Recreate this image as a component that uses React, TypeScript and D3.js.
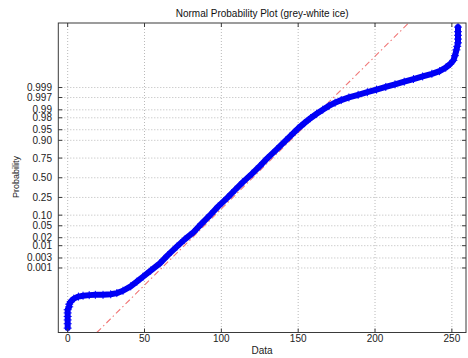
import React from "react";
import * as d3 from "d3";

// Sorted data values (grey level) and their normal quantiles
const dataValues = [
  0, 0, 0, 0, 0, 0, 1, 1, 2, 4, 7, 10, 14, 18, 23, 28, 32, 36, 41, 45, 49, 54,
  60, 65, 71, 76, 82, 87, 93, 98, 104, 109, 114, 120, 125, 130, 136, 142, 147,
  150, 154, 158, 162, 166, 170, 174, 178, 183, 189, 195, 201, 207, 213, 219,
  225, 231, 237, 242, 246, 249, 251, 252, 253, 253.5, 254, 254, 254, 254, 254,
];
const normalQuantiles = [
  -5.15, -5.0, -4.87, -4.75, -4.63, -4.52, -4.42, -4.33, -4.24, -4.14, -4.07,
  -4.04, -4.02, -4.01, -4.01, -3.99, -3.95, -3.87, -3.72, -3.56, -3.39, -3.18,
  -2.93, -2.66, -2.36, -2.12, -1.86, -1.58, -1.26, -0.98, -0.68, -0.41, -0.15,
  0.14, 0.4, 0.67, 0.97, 1.28, 1.54, 1.69, 1.87, 2.04, 2.19, 2.33, 2.46, 2.57,
  2.66, 2.75, 2.84, 2.93, 3.02, 3.11, 3.2, 3.29, 3.38, 3.47, 3.56, 3.65,
  3.77, 3.9, 4.02, 4.18, 4.38, 4.5, 4.62, 4.75, 4.88, 5.0, 5.16,
];

const xTicks = [0, 50, 100, 150, 200, 250];
const yTickProbs = [
  0.001, 0.003, 0.01, 0.02, 0.05, 0.1, 0.25, 0.5, 0.75, 0.9, 0.95, 0.98, 0.99,
  0.997, 0.999,
];
const yTickLabels = [
  "0.001", "0.003", "0.01", "0.02", "0.05", "0.10", "0.25", "0.50", "0.75",
  "0.90", "0.95", "0.98", "0.99", "0.997", "0.999",
];
const fitMean = 120.4;
const fitStd = 19.14;
const xDomain = [-6.1, 259.2];
const zDomain = [-5.3, 5.3];

const titleText = "Normal Probability Plot (grey-white ice)";
const xLabelText = "Data";
const yLabelText = "Probability";

// Inverse normal CDF (Acklam)
function probit(p: number): number {
  const a = [-3.969683028665376e1, 2.209460984245205e2, -2.759285104469687e2, 1.38357751867269e2, -3.066479806614716e1, 2.506628277459239];
  const b = [-5.447609879822406e1, 1.615858368580409e2, -1.556989798598866e2, 6.680131188771972e1, -1.328068155288572e1];
  const c = [-7.784894002430293e-3, -3.223964580411365e-1, -2.400758277161838, -2.549732539343734, 4.374664141464968, 2.938163982698783];
  const d = [7.784695709041462e-3, 3.224671290700398e-1, 2.445134137142996, 3.754408661907416];
  const pl = 0.02425;
  if (p < pl) {
    const q = Math.sqrt(-2 * Math.log(p));
    return (((((c[0] * q + c[1]) * q + c[2]) * q + c[3]) * q + c[4]) * q + c[5]) /
      ((((d[0] * q + d[1]) * q + d[2]) * q + d[3]) * q + 1);
  }
  if (p > 1 - pl) {
    const q = Math.sqrt(-2 * Math.log(1 - p));
    return -(((((c[0] * q + c[1]) * q + c[2]) * q + c[3]) * q + c[4]) * q + c[5]) /
      ((((d[0] * q + d[1]) * q + d[2]) * q + d[3]) * q + 1);
  }
  const q = p - 0.5;
  const r = q * q;
  return ((((((a[0] * r + a[1]) * r + a[2]) * r + a[3]) * r + a[4]) * r + a[5]) * q) /
    (((((b[0] * r + b[1]) * r + b[2]) * r + b[3]) * r + b[4]) * r + 1);
}

export default function App() {
  const W = 468;
  const H = 358;
  const left = 58.3;
  const right = 466;
  const top = 23;
  const bottom = 332.5;
  const font = "'Liberation Sans', Arial, Helvetica, sans-serif";

  const x = d3.scaleLinear().domain(xDomain).range([left, right]);
  const y = d3.scaleLinear().domain(zDomain).range([bottom, top]);

  const pts: [number, number][] = dataValues.map((v, i) => [x(v), y(normalQuantiles[i])]);
  const bandPath = d3.line()(pts) || "";
  const fitPts: [number, number][] = zDomain.map((z) => [x(fitMean + fitStd * z), y(z)]);
  const fitPath = d3.line()(fitPts) || "";

  const tickLen = 4;
  const axisColor = "#3a3a3a";
  const gridColor = "#a8a8a8";
  const ms = 4;

  return (
    <svg
      width={W}
      height={H}
      style={{ position: "absolute", left: 0, top: 0, background: "#fff" }}
      fontFamily={font}
    >
      <defs>
        <clipPath id="plotclip">
          <rect x={left} y={top} width={right - left} height={bottom - top} />
        </clipPath>
      </defs>
      <rect x={0} y={0} width={W} height={H} fill="#fff" />

      {/* grid */}
      {xTicks.map((t) => (
        <line key={"gx" + t} x1={x(t)} x2={x(t)} y1={top} y2={bottom}
          stroke={gridColor} strokeWidth={0.8} strokeDasharray="1,2" />
      ))}
      {yTickProbs.map((p) => (
        <line key={"gy" + p} x1={left} x2={right} y1={y(probit(p))} y2={y(probit(p))}
          stroke={gridColor} strokeWidth={0.8} strokeDasharray="1,2" />
      ))}

      {/* data band and markers */}
      <g clipPath="url(#plotclip)">
        <path d={fitPath} fill="none" stroke="#f07878" strokeWidth={1.1} strokeDasharray="6,3,1.5,3" />
        <path d={bandPath} fill="none" stroke="#0000f0" strokeWidth={6} strokeLinejoin="round" strokeLinecap="round" />
        {pts.map(([px, py], i) => (
          <path key={"m" + i}
            d={`M${px - ms},${py}H${px + ms}M${px},${py - ms}V${py + ms}`}
            stroke="#0000ff" strokeWidth={1} fill="none" />
        ))}
      </g>

      {/* axes box */}
      <rect x={left} y={top} width={right - left} height={bottom - top}
        fill="none" stroke={axisColor} strokeWidth={1} />

      {/* ticks */}
      {xTicks.map((t) => (
        <g key={"tx" + t}>
          <line x1={x(t)} x2={x(t)} y1={bottom} y2={bottom - tickLen} stroke={axisColor} />
          <line x1={x(t)} x2={x(t)} y1={top} y2={top + tickLen} stroke={axisColor} />
          <text x={x(t)} y={341.5} fontSize={10} textAnchor="middle" fill="#222">{t}</text>
        </g>
      ))}
      {yTickProbs.map((p, i) => {
        const py = y(probit(p));
        return (
          <g key={"ty" + p}>
            <line x1={left} x2={left + tickLen} y1={py} y2={py} stroke={axisColor} />
            <line x1={right} x2={right - tickLen} y1={py} y2={py} stroke={axisColor} />
            <text x={52} y={py + 3.5} fontSize={10} textAnchor="end" fill="#222">{yTickLabels[i]}</text>
          </g>
        );
      })}

      {/* labels */}
      <text x={(left + right) / 2} y={17} fontSize={10} textAnchor="middle" fill="#111">{titleText}</text>
      <text x={262} y={353.5} fontSize={10} textAnchor="middle" fill="#222">{xLabelText}</text>
      <text transform="translate(19,177) rotate(-90)" fontSize={9} textAnchor="middle" fill="#222">{yLabelText}</text>
    </svg>
  );
}
